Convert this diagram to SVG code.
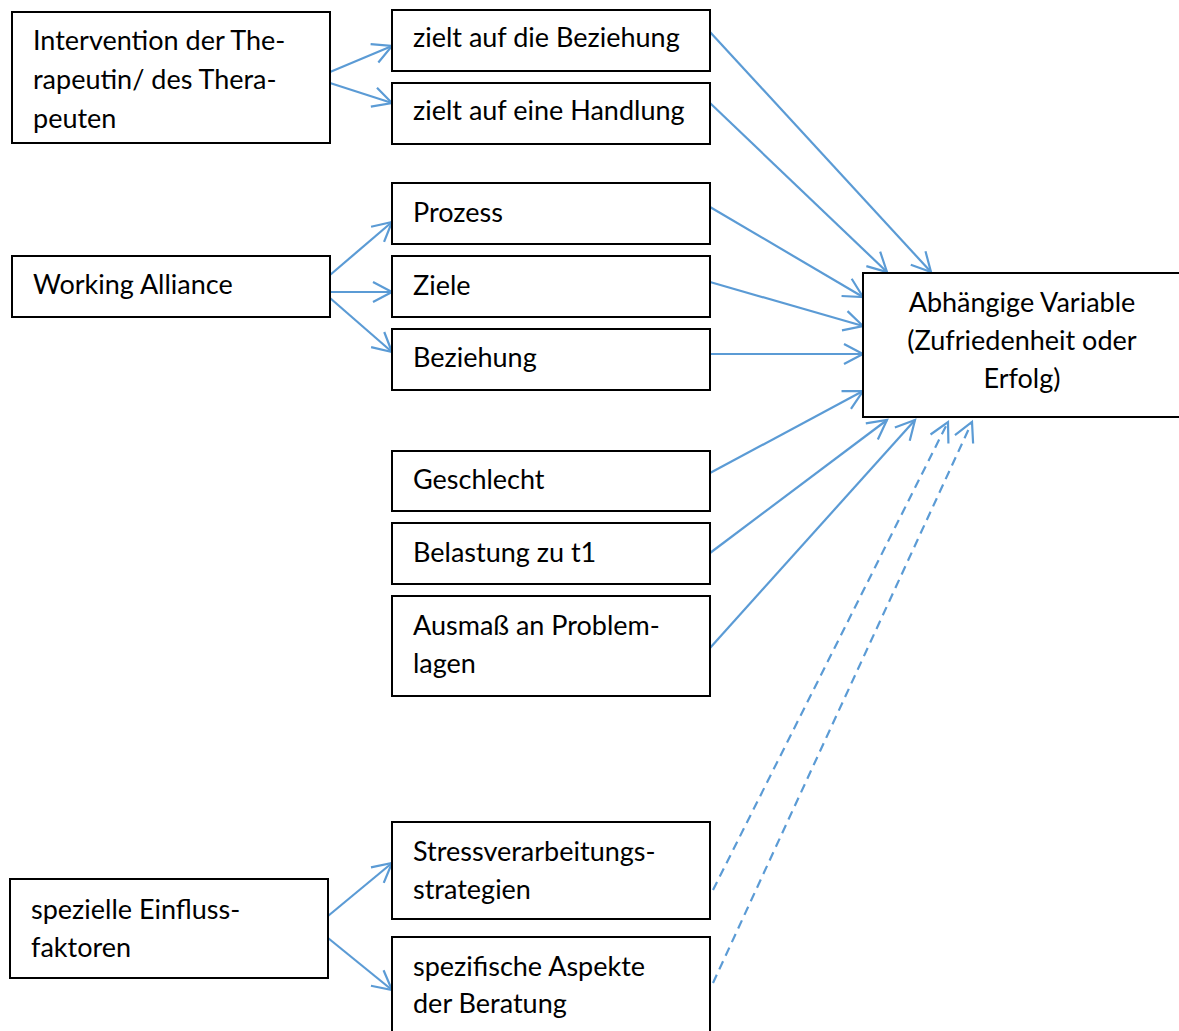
<svg xmlns="http://www.w3.org/2000/svg" width="1179" height="1031" viewBox="0 0 1179 1031">
<style>
.box{fill:#fff;stroke:#000;stroke-width:2}
.t{font-family:Lato,"Liberation Sans",sans-serif;font-size:27px;fill:#000}
.c{text-anchor:middle}
.ln{stroke:#5B9BD5;stroke-width:2.2;fill:none;marker-end:url(#ah)}
.d{stroke-dasharray:9,6}
</style>
<defs>
<marker id="ah" markerUnits="userSpaceOnUse" viewBox="-24 -14 28 28" markerWidth="28" markerHeight="28" refX="0" refY="0" orient="auto">
<path d="M-19,-10 L0,0 L-19,10" fill="none" stroke="#5B9BD5" stroke-width="2.2" stroke-dasharray="none"/>
</marker>
</defs>
<rect width="1179" height="1031" fill="#fff"/>
<g id="connectors">
<line class="ln" x1="330" y1="72" x2="392" y2="46"/>
<line class="ln" x1="330" y1="83" x2="392" y2="103"/>
<line class="ln" x1="330" y1="275" x2="392" y2="222"/>
<line class="ln" x1="330" y1="292" x2="392" y2="292"/>
<line class="ln" x1="330" y1="298" x2="392" y2="352"/>
<line class="ln" x1="710" y1="32" x2="931" y2="272"/>
<line class="ln" x1="710" y1="103" x2="887" y2="272"/>
<line class="ln" x1="710" y1="207" x2="863" y2="297"/>
<line class="ln" x1="710" y1="282" x2="863" y2="326"/>
<line class="ln" x1="710" y1="354" x2="863" y2="354"/>
<line class="ln" x1="710" y1="473" x2="863" y2="391"/>
<line class="ln" x1="710" y1="553" x2="887" y2="420"/>
<line class="ln" x1="710" y1="648" x2="915" y2="420"/>
<line class="ln d" x1="713" y1="890" x2="948" y2="422"/>
<line class="ln d" x1="713" y1="983" x2="972" y2="422"/>
<line class="ln" x1="328" y1="916" x2="392" y2="863"/>
<line class="ln" x1="328" y1="938" x2="392" y2="990"/>
</g>
<g id="intervention"><rect class="box" x="12" y="12" width="318" height="131"/>
<text class="t" x="33" y="50">Intervention der The-</text>
<text class="t" x="33" y="89">rapeutin/ des Thera-</text>
<text class="t" x="33" y="128">peuten</text></g>
<g id="beziehung1"><rect class="box" x="392" y="10" width="318" height="61"/>
<text class="t" x="413" y="47">zielt auf die Beziehung</text></g>
<g id="handlung"><rect class="box" x="392" y="83" width="318" height="61"/>
<text class="t" x="413" y="120">zielt auf eine Handlung</text></g>
<g id="working"><rect class="box" x="12" y="256" width="318" height="61"/>
<text class="t" x="33" y="294">Working Alliance</text></g>
<g id="prozess"><rect class="box" x="392" y="183" width="318" height="61"/>
<text class="t" x="413" y="222">Prozess</text></g>
<g id="ziele"><rect class="box" x="392" y="256" width="318" height="61"/>
<text class="t" x="413" y="295">Ziele</text></g>
<g id="beziehung2"><rect class="box" x="392" y="329" width="318" height="61"/>
<text class="t" x="413" y="367">Beziehung</text></g>
<g id="geschlecht"><rect class="box" x="392" y="451" width="318" height="60"/>
<text class="t" x="413" y="489">Geschlecht</text></g>
<g id="belastung"><rect class="box" x="392" y="523" width="318" height="61"/>
<text class="t" x="413" y="562">Belastung zu t1</text></g>
<g id="ausmass"><rect class="box" x="392" y="596" width="318" height="100"/>
<text class="t" x="413" y="635">Ausmaß an Problem-</text>
<text class="t" x="413" y="673">lagen</text></g>
<g id="abhaengig"><rect class="box" x="863" y="273" width="330" height="144"/>
<text class="t c" x="1022" y="312">Abhängige Variable</text>
<text class="t c" x="1022" y="350">(Zufriedenheit oder</text>
<text class="t c" x="1022" y="388">Erfolg)</text></g>
<g id="stress"><rect class="box" x="392" y="822" width="318" height="97"/>
<text class="t" x="413" y="861">Stressverarbeitungs-</text>
<text class="t" x="413" y="899">strategien</text></g>
<g id="spezifisch"><rect class="box" x="392" y="937" width="318" height="110"/>
<text class="t" x="413" y="976">spezifische Aspekte</text>
<text class="t" x="413" y="1013">der Beratung</text></g>
<g id="speziell"><rect class="box" x="10" y="879" width="318" height="99"/>
<text class="t" x="31" y="919">spezielle Einfluss-</text>
<text class="t" x="31" y="957">faktoren</text></g>
</svg>
